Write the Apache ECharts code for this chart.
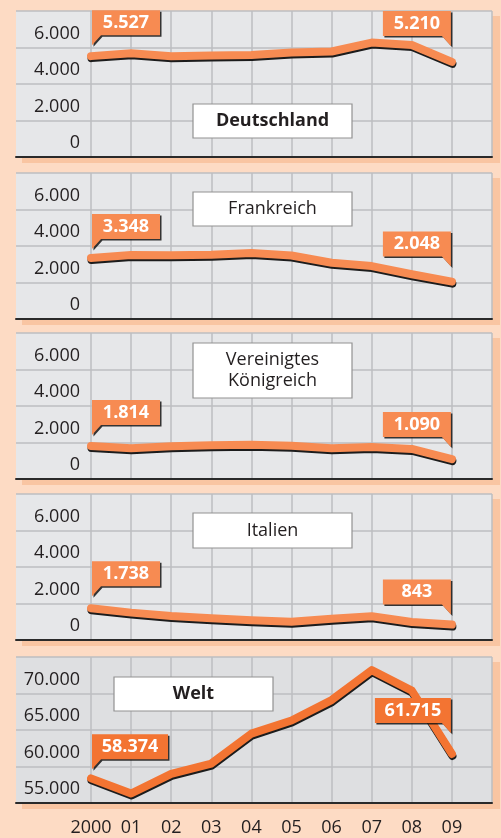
<!DOCTYPE html>
<html>
<head>
<meta charset="utf-8">
<script src="https://cdn.jsdelivr.net/npm/echarts@6/dist/echarts.min.js"></script>
<style>
  html, body { margin: 0; padding: 0; background: #fddbc4; }
  #chart { width: 501px; height: 838px; }
</style>
</head>
<body>
<div id="chart"></div>
<script>
// Jahre (x-Achse)
var years = ['2000', '01', '02', '03', '04', '05', '06', '07', '08', '09'];

// Werte je Land
var deutschland = [5527, 5690, 5520, 5560, 5590, 5730, 5780, 6270, 6140, 5210];
var frankreich = [3348, 3510, 3490, 3520, 3620, 3480, 3080, 2900, 2450, 2048];
var koenigreich = [1814, 1680, 1800, 1850, 1870, 1820, 1680, 1760, 1650, 1090];
var italien = [1738, 1500, 1320, 1190, 1080, 1000, 1170, 1300, 990, 843];
var welt = [58374, 56300, 59000, 60400, 64500, 66300, 69100, 73200, 70400, 61715];

// Achsen: min, max, Schritt
var landTicks = [0, 8000, 2000];
var weltTicks = [55000, 75000, 5000];

var font = '"Open Sans", "Noto Sans", sans-serif';
var ink = '#231f20';

function fmt(v) {
  return String(v).replace(/\B(?=(\d{3})+(?!\d))/g, '.');
}

var panels = [
  { name: 'Deutschland', data: deutschland, ticks: landTicks, top: 11, bold: true, box: [193, 93, 159, 34], lift: [11, 16] },
  { name: 'Frankreich', data: frankreich, ticks: landTicks, top: 173, bold: false, box: [193, 19, 159, 34], lift: [9, 15] },
  { name: 'Vereinigtes\nKönigreich', data: koenigreich, ticks: landTicks, top: 333, bold: false, box: [193, 10, 159, 55], lift: [11, 12] },
  { name: 'Italien', data: italien, ticks: landTicks, top: 494, bold: false, box: [193, 19, 159, 35], lift: [12, 10] },
  { name: 'Welt', data: welt, ticks: weltTicks, top: 657, bold: true, box: [114, 20, 159, 34], lift: [9, 21], welt: true }
];

var H = 146;
var grid = [], xAxis = [], yAxis = [], series = [], graphic = [];

panels.forEach(function (p, i) {
  var bg = p.welt ? '#dedfe1' : '#e6e7e9';
  var lineColor = p.welt ? '#f37432' : '#f78b52';
  var gridLine = { show: true, lineStyle: { color: '#bdbec1', width: 1.5 } };
  var axisLine = { show: true, onZero: false, lineStyle: { color: '#2a2a2a', width: 2 } };

  grid.push({ left: 91, right: 9, top: p.top, height: H, show: true, backgroundColor: bg, borderWidth: 0 });
  grid.push({ left: 16, width: 75, top: p.top, height: H, show: true, backgroundColor: bg, borderWidth: 0 });

  xAxis.push({
    gridIndex: 2 * i, type: 'category', boundaryGap: false,
    data: years.concat(['']),
    axisLine: axisLine, axisTick: { show: false }, splitLine: gridLine,
    axisLabel: { show: p.welt === true, interval: 0, margin: 16, fontSize: 18, color: ink, fontFamily: font }
  });
  xAxis.push({
    gridIndex: 2 * i + 1, type: 'value', min: 0, max: 1,
    axisLine: axisLine, axisTick: { show: false }, splitLine: { show: false }, axisLabel: { show: false }
  });

  yAxis.push({
    gridIndex: 2 * i, type: 'value', min: p.ticks[0], max: p.ticks[1], interval: p.ticks[2],
    axisLine: { show: false }, axisTick: { show: false }, splitLine: gridLine,
    axisLabel: {
      margin: 11, fontSize: 18, color: ink, fontFamily: font,
      verticalAlign: 'bottom', lineHeight: 18, padding: [0, 0, 5, 0],
      formatter: function (v) { return v === p.ticks[1] ? '' : fmt(v); }
    }
  });
  yAxis.push({
    gridIndex: 2 * i + 1, type: 'value', min: p.ticks[0], max: p.ticks[1], interval: p.ticks[2],
    axisLine: { show: false }, axisTick: { show: false }, splitLine: gridLine, axisLabel: { show: false }
  });

  var n = p.data.length;
  var w = p.welt ? 76 : 68;
  var half = w / 2 + 1;
  series.push({
    type: 'line', xAxisIndex: 2 * i, yAxisIndex: 2 * i,
    data: p.data, symbol: 'none', silent: true, z: 3,
    lineStyle: {
      color: lineColor, width: 8, cap: 'round', join: 'round',
      shadowColor: '#1c1c1c', shadowOffsetX: 0.5, shadowOffsetY: 2, shadowBlur: 0
    },
    markPoint: {
      silent: true,
      itemStyle: { color: lineColor, shadowColor: 'rgba(20,20,20,0.85)', shadowOffsetX: 1.5, shadowOffsetY: 1.5, shadowBlur: 0 },
      label: {
        show: true, position: 'inside', offset: [0, -5], color: '#fff',
        fontSize: 18, fontWeight: 'bold', fontFamily: font,
        formatter: function (q) { return fmt(q.value); }
      },
      data: [
        {
          coord: [0, p.data[0]], value: p.data[0],
          symbol: 'path://M0 0H' + w + 'V25H9L0 35Z', symbolSize: [w, 35],
          symbolOffset: [half, -(p.lift[0] + 17.5)]
        },
        {
          coord: [n - 1, p.data[n - 1]], value: p.data[n - 1],
          symbol: 'path://M0 0H' + w + 'V35L' + (w - 9) + ' 25H0Z', symbolSize: [w, 35],
          symbolOffset: [-half, -(p.lift[1] + 17.5)]
        }
      ]
    }
  });

  // Schatten hinter dem Feld
  graphic.push({ type: 'rect', z: -10, shape: { x: 22, y: p.top + 5, width: 478, height: H + 1 }, style: { fill: '#f9c5a2' } });
  // Titelkasten
  graphic.push({
    type: 'rect', z: 50,
    shape: { x: p.box[0], y: p.top + p.box[1], width: p.box[2], height: p.box[3] },
    style: { fill: '#ffffff', stroke: '#929292', lineWidth: 1.2 }
  });
  graphic.push({
    type: 'text', z: 51,
    x: p.box[0] + p.box[2] / 2, y: p.top + p.box[1] + p.box[3] / 2,
    style: {
      text: p.name, fill: ink, font: (p.bold ? 'bold ' : '') + '18px ' + font,
      textAlign: 'center', textVerticalAlign: 'middle', align: 'center', verticalAlign: 'middle', lineHeight: 21
    }
  });
});

var chart = echarts.init(document.getElementById('chart'));
var option = {
  backgroundColor: '#fddbc4',
  animation: false,
  grid: grid,
  xAxis: xAxis,
  yAxis: yAxis,
  series: series,
  graphic: graphic
};
chart.setOption(option);
</script>
</body>
</html>
